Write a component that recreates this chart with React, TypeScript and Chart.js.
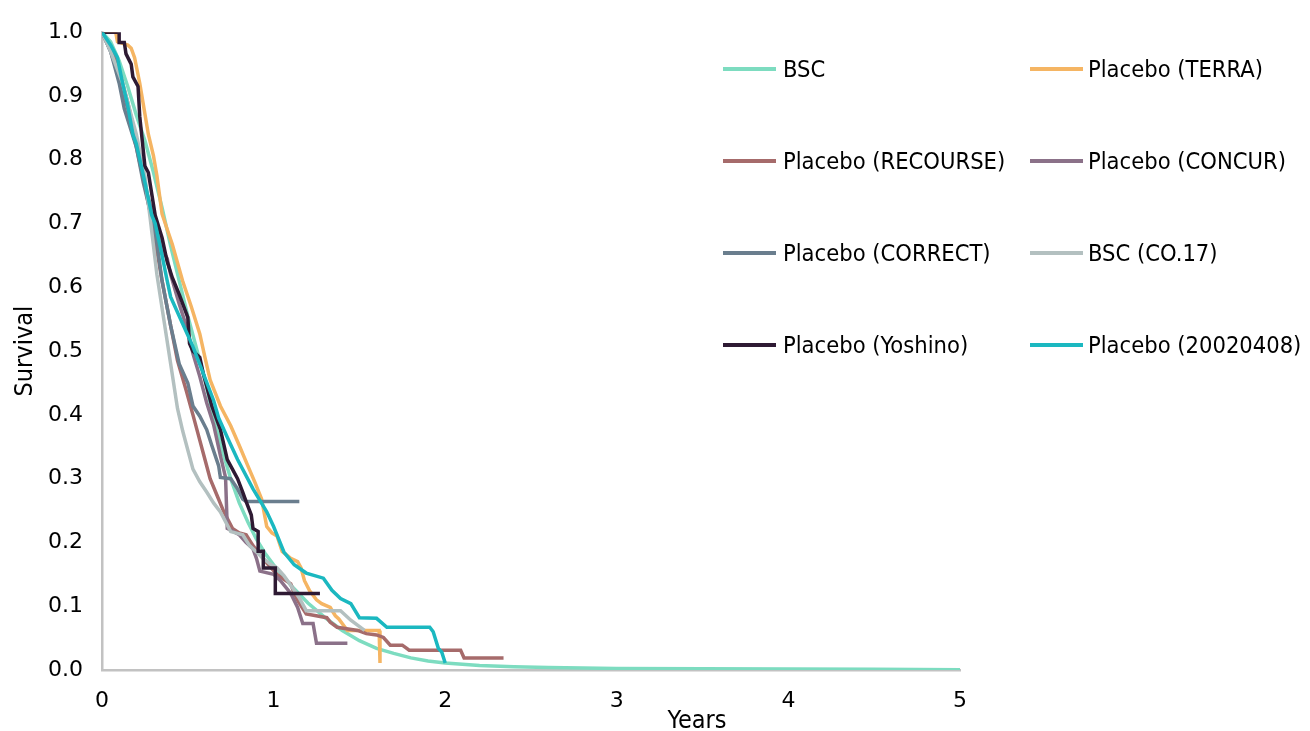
import React, { useEffect, useRef } from 'react';
import { Chart, registerables } from 'chart.js';

Chart.register(...registerables);

const seriesNames = [
  'BSC',
  'Placebo (TERRA)',
  'Placebo (RECOURSE)',
  'Placebo (CONCUR)',
  'Placebo (CORRECT)',
  'BSC (CO.17)',
  'Placebo (Yoshino)',
  'Placebo (20020408)',
];
const seriesColors = ['#7DDCC0', '#F5B563', '#A66B6B', '#8B7189', '#6A7E8E', '#B3C0C0', '#2E1A33', '#1BB8C0'];

const xTickLabels = ['0', '1', '2', '3', '4', '5'];
const yTickLabels = ['0.0', '0.1', '0.2', '0.3', '0.4', '0.5', '0.6', '0.7', '0.8', '0.9', '1.0'];
const xTitle = 'Years';
const yTitle = 'Survival';

const bscT = [0, 0.05, 0.1, 0.15, 0.2, 0.25, 0.3, 0.35, 0.4, 0.45, 0.5, 0.55, 0.6, 0.65, 0.7, 0.75, 0.8, 0.85, 0.9, 0.95, 1.0, 1.1, 1.2, 1.3, 1.4, 1.5, 1.6, 1.7, 1.8, 1.9, 2.0, 2.2, 2.4, 2.6, 2.8, 3.0, 3.5, 4.0, 4.5, 5.0];
const bscS = [1, 0.985, 0.955, 0.915, 0.87, 0.83, 0.78, 0.725, 0.665, 0.61, 0.555, 0.505, 0.455, 0.395, 0.345, 0.3, 0.262, 0.232, 0.205, 0.183, 0.165, 0.133, 0.105, 0.082, 0.062, 0.046, 0.034, 0.026, 0.019, 0.014, 0.011, 0.007, 0.005, 0.004, 0.003, 0.0025, 0.002, 0.0015, 0.001, 0.0005];

const terraT = [0, 0.08, 0.09, 0.15, 0.17, 0.19, 0.22, 0.24, 0.27, 0.3, 0.32, 0.35, 0.41, 0.47, 0.52, 0.57, 0.6, 0.63, 0.69, 0.75, 0.8, 0.85, 0.89, 0.93, 0.96, 0.99, 1.02, 1.05, 1.1, 1.14, 1.16, 1.18, 1.21, 1.25, 1.28, 1.33, 1.36, 1.38, 1.43, 1.6, 1.615, 1.62];
const terraS = [1, 1, 0.985, 0.98, 0.975, 0.96, 0.92, 0.888, 0.84, 0.806, 0.775, 0.715, 0.667, 0.61, 0.57, 0.527, 0.49, 0.455, 0.414, 0.383, 0.352, 0.32, 0.295, 0.268, 0.225, 0.215, 0.21, 0.186, 0.175, 0.17, 0.16, 0.14, 0.124, 0.11, 0.104, 0.098, 0.085, 0.08, 0.062, 0.062, 0.062, 0.011];

const recourseT = [0, 0.05, 0.1, 0.15, 0.2, 0.25, 0.3, 0.35, 0.4, 0.44, 0.49, 0.53, 0.57, 0.6, 0.63, 0.67, 0.71, 0.76, 0.8, 0.84, 0.88, 0.92, 0.97, 1.02, 1.06, 1.1, 1.12, 1.14, 1.19, 1.31, 1.33, 1.37, 1.49, 1.54, 1.6, 1.64, 1.68, 1.75, 1.77, 1.79, 2.09, 2.11, 2.34];
const recourseS = [1, 0.975, 0.94, 0.89, 0.83, 0.76, 0.69, 0.61, 0.54, 0.485, 0.439, 0.4, 0.36, 0.33, 0.3, 0.274, 0.248, 0.222, 0.215, 0.212, 0.195, 0.181, 0.165, 0.15, 0.142, 0.135, 0.12, 0.109, 0.088, 0.082, 0.075, 0.067, 0.062, 0.057, 0.055, 0.051, 0.039, 0.039, 0.035, 0.031, 0.031, 0.019, 0.019];

const concurT = [0, 0.05, 0.1, 0.15, 0.2, 0.25, 0.3, 0.35, 0.38, 0.4, 0.45, 0.5, 0.53, 0.57, 0.61, 0.65, 0.69, 0.72, 0.73, 0.76, 0.8, 0.84, 0.88, 0.9, 0.92, 1.0, 1.04, 1.1, 1.14, 1.17, 1.23, 1.25, 1.43];
const concurS = [1, 0.97, 0.93, 0.88, 0.82, 0.76, 0.71, 0.66, 0.645, 0.62, 0.574, 0.532, 0.496, 0.46, 0.419, 0.385, 0.336, 0.302, 0.222, 0.218, 0.212, 0.2, 0.19, 0.175, 0.155, 0.15, 0.14, 0.12, 0.098, 0.073, 0.073, 0.042, 0.042];

const correctT = [0, 0.05, 0.1, 0.13, 0.2, 0.24, 0.28, 0.32, 0.35, 0.4, 0.45, 0.5, 0.53, 0.57, 0.61, 0.64, 0.68, 0.69, 0.75, 0.79, 0.82, 0.84, 1.15];
const correctS = [1, 0.97, 0.92, 0.88, 0.82, 0.765, 0.72, 0.67, 0.61, 0.54, 0.48, 0.45, 0.414, 0.398, 0.377, 0.352, 0.32, 0.302, 0.3, 0.284, 0.268, 0.264, 0.264];

const co17T = [0, 0.05, 0.12, 0.2, 0.25, 0.28, 0.32, 0.36, 0.4, 0.44, 0.47, 0.5, 0.53, 0.57, 0.61, 0.65, 0.69, 0.75, 0.82, 0.86, 0.9, 0.94, 0.98, 1.02, 1.06, 1.1, 1.15, 1.19, 1.39, 1.45, 1.53];
const co17S = [1, 0.97, 0.92, 0.84, 0.775, 0.71, 0.62, 0.55, 0.48, 0.41, 0.375, 0.345, 0.315, 0.295, 0.279, 0.262, 0.248, 0.217, 0.212, 0.195, 0.185, 0.175, 0.166, 0.16, 0.148, 0.133, 0.113, 0.093, 0.093, 0.078, 0.062];

const yoshinoT = [0, 0.1, 0.1, 0.13, 0.14, 0.17, 0.18, 0.21, 0.22, 0.25, 0.27, 0.31, 0.35, 0.38, 0.41, 0.45, 0.5, 0.51, 0.53, 0.57, 0.59, 0.64, 0.69, 0.73, 0.76, 0.79, 0.82, 0.84, 0.87, 0.88, 0.91, 0.91, 0.94, 0.94, 1.01, 1.01, 1.27];
const yoshinoS = [1, 1, 0.984, 0.984, 0.966, 0.95, 0.93, 0.915, 0.868, 0.79, 0.78, 0.713, 0.678, 0.64, 0.615, 0.589, 0.553, 0.512, 0.5, 0.49, 0.465, 0.414, 0.377, 0.33, 0.315, 0.3, 0.279, 0.264, 0.243, 0.222, 0.217, 0.186, 0.186, 0.16, 0.16, 0.12, 0.12];

const t20020408T = [0, 0.05, 0.09, 0.12, 0.15, 0.18, 0.2, 0.25, 0.29, 0.31, 0.35, 0.38, 0.4, 0.47, 0.53, 0.59, 0.65, 0.68, 0.73, 0.79, 0.88, 0.96, 1.0, 1.06, 1.12, 1.19, 1.29, 1.34, 1.39, 1.45, 1.5, 1.6, 1.66, 1.91, 1.93, 1.96, 1.98, 2.0];
const t20020408S = [1, 0.98, 0.96, 0.92, 0.885, 0.84, 0.825, 0.765, 0.713, 0.7, 0.65, 0.61, 0.585, 0.543, 0.507, 0.465, 0.423, 0.395, 0.365, 0.33, 0.284, 0.248, 0.225, 0.185, 0.165, 0.152, 0.144, 0.125, 0.112, 0.104, 0.082, 0.081, 0.067, 0.067, 0.06, 0.034, 0.028, 0.011];

const legendRowY = [69, 161, 253, 345];
const legendColLineX = [723, 1030];
const legendColTextX = [783, 1088];

export default function App() {
  const ref = useRef<HTMLCanvasElement>(null);

  useEffect(() => {
    const series = [
      [bscT, bscS],
      [terraT, terraS],
      [recourseT, recourseS],
      [concurT, concurS],
      [correctT, correctS],
      [co17T, co17S],
      [yoshinoT, yoshinoS],
      [t20020408T, t20020408S],
    ];
    const chart = new Chart(ref.current as HTMLCanvasElement, {
      type: 'line',
      data: {
        datasets: series.map(([ts, ss], i) => ({
          label: seriesNames[i],
          data: ts.map((t, j) => ({ x: t, y: ss[j] })),
          borderColor: seriesColors[i],
          backgroundColor: seriesColors[i],
          borderWidth: 3.5,
          pointRadius: 0,
          fill: false,
          tension: 0,
          order: 7 - i,
        })),
      },
      options: {
        animation: false,
        responsive: false,
        maintainAspectRatio: false,
        layout: { padding: { left: 0, right: 350, top: 25, bottom: 0 } },
        plugins: { legend: { display: false }, tooltip: { enabled: false } },
        scales: {
          x: {
            type: 'linear',
            min: 0,
            max: 5,
            grid: { display: false, drawTicks: false },
            border: { color: '#c2c2c2', width: 2.5 },
            ticks: {
              stepSize: 1,
              padding: 18,
              color: '#000',
              font: { family: 'DejaVu Sans', size: 22 },
              callback: (v: any) => xTickLabels[Math.round(Number(v))],
            },
            title: { display: false },
            afterFit: (s: any) => {
              s.height = 61;
            },
          },
          y: {
            type: 'linear',
            min: 0,
            max: 1,
            grid: { display: false, drawTicks: false },
            border: { color: '#c2c2c2', width: 2.5 },
            ticks: {
              stepSize: 0.1,
              padding: 19,
              color: '#000',
              font: { family: 'DejaVu Sans', size: 22 },
              callback: (v: any) => yTickLabels[Math.round(Number(v) * 10)],
            },
            title: {
              display: true,
              text: yTitle,
              color: '#000',
              font: { family: 'DejaVu Sans Condensed', size: 25 },
              padding: { top: 10, bottom: 0 },
            },
            afterFit: (s: any) => {
              s.width = 102;
            },
          },
        },
      },
    });
    return () => chart.destroy();
  }, []);

  return (
    <div style={{ position: 'absolute', left: 0, top: 0, width: 1310, height: 731, background: '#fff', overflow: 'hidden' }}>
      <canvas ref={ref} width={1310} height={731} style={{ display: 'block', width: 1310, height: 731 }} />
      <div
        style={{
          position: 'absolute',
          left: 697,
          top: 720,
          transform: 'translate(-50%, -50%)',
          fontFamily: 'DejaVu Sans Condensed',
          fontSize: 25,
          lineHeight: '28px',
          color: '#000',
          whiteSpace: 'nowrap',
        }}
      >
        {xTitle}
      </div>
      {seriesNames.map((name, i) => {
        const row = Math.floor(i / 2);
        const col = i % 2;
        const y = legendRowY[row];
        return (
          <React.Fragment key={name}>
            <div
              style={{
                position: 'absolute',
                left: legendColLineX[col],
                top: y - 1.75,
                width: 53,
                height: 3.5,
                background: seriesColors[i],
              }}
            />
            <div
              style={{
                position: 'absolute',
                left: legendColTextX[col],
                top: y,
                transform: 'translateY(-50%)',
                fontFamily: 'DejaVu Sans Condensed',
                fontSize: 23.5,
                lineHeight: '28px',
                color: '#000',
                whiteSpace: 'nowrap',
              }}
            >
              {name}
            </div>
          </React.Fragment>
        );
      })}
    </div>
  );
}
